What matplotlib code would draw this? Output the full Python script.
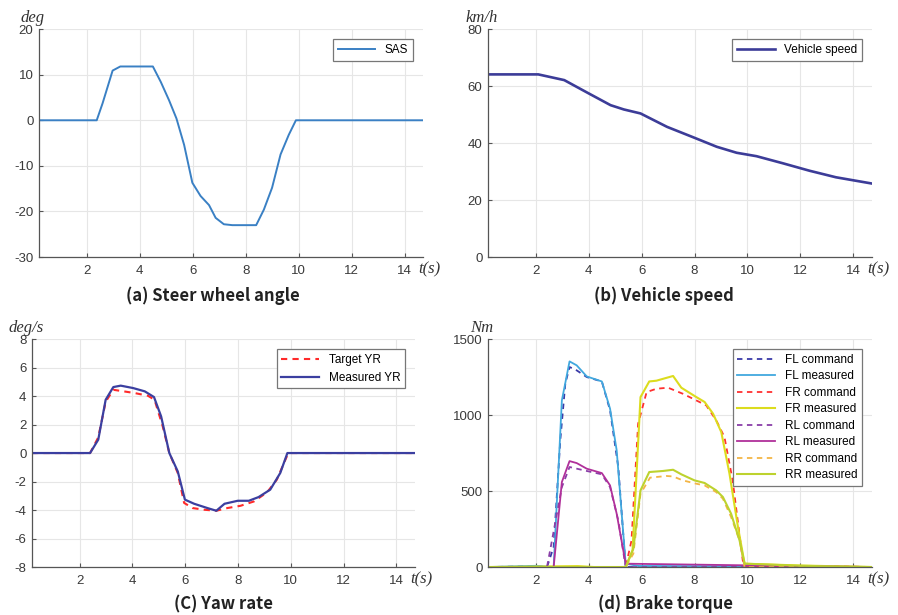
import numpy as np
import matplotlib
matplotlib.use("Agg")
import matplotlib.pyplot as plt

plt.rcParams["font.family"] = ["Liberation Sans", "DejaVu Sans"]
plt.rcParams["axes.unicode_minus"] = False

# (a) steer wheel angle
sas_t = [0.2, 2.38, 2.6, 2.98, 3.27, 4.5, 4.8, 5.11, 5.39, 5.68, 5.99, 6.3, 6.62,
         6.87, 7.18, 7.5, 8.4, 8.69, 9.0, 9.32, 9.63, 9.9, 14.7]
sas_deg = [0, 0, 3.7, 10.9, 11.8, 11.8, 8.4, 4.4, 0.4, -5.4, -13.7, -16.6, -18.6,
           -21.4, -22.8, -23.0, -23.0, -19.6, -14.8, -7.5, -3.2, 0, 0]

# (b) vehicle speed
spd_t = [0.2, 2.1, 3.08, 3.95, 4.83, 5.33, 5.96, 6.96, 7.96, 8.84, 9.59, 10.34,
         11.34, 12.34, 13.34, 14.7]
spd_kmh = [64.1, 64.1, 62.1, 57.7, 53.3, 51.8, 50.4, 45.7, 42.0, 38.7, 36.6, 35.4,
           32.9, 30.3, 28.0, 25.8]

# (c) yaw rate
yr_meas_t = [0.2, 2.4, 2.71, 2.99, 3.28, 3.56, 4.03, 4.47, 4.82, 5.09, 5.4, 5.72,
             5.99, 6.34, 6.84, 7.18, 7.49, 7.99, 8.41, 8.78, 9.22, 9.6, 9.87, 14.7]
yr_meas = [0, 0, 0.94, 3.74, 4.63, 4.73, 4.56, 4.33, 3.93, 2.57, 0, -1.29,
           -3.27, -3.56, -3.86, -4.05, -3.56, -3.35, -3.35, -3.09, -2.57, -1.4, 0, 0]
yr_tgt_t = [0.2, 2.4, 2.71, 2.99, 3.28, 4.09, 4.59, 4.84, 5.15, 5.4, 5.72, 5.96,
            6.28, 6.72, 7.18, 7.6, 8.1, 8.6, 9.1, 9.47, 9.85, 9.95, 14.7]
yr_tgt = [0, 0, 1.1, 3.6, 4.44, 4.21, 4.02, 3.74, 1.87, 0, -1.4, -3.5,
          -3.86, -3.98, -4.05, -3.86, -3.7, -3.4, -2.76, -1.87, -0.23, 0, 0]

# (d) brake torque
fl_cmd_t = [0.2, 2.0, 2.43, 2.68, 2.93, 3.12, 3.28, 3.55, 3.93, 4.5, 4.81, 5.12, 5.4, 8.0, 12.0, 14.7]
fl_cmd = [0, 5, 0, 132, 833, 1206, 1316, 1294, 1250, 1221, 1031, 658, 0, 0, 0, 0]
fl_meas_t = [0.2, 2.0, 2.68, 2.99, 3.28, 3.55, 3.93, 4.5, 4.81, 5.06, 5.4, 5.9, 9.9, 14.7]
fl_meas = [0, 8, 0, 1096, 1353, 1327, 1254, 1221, 1042, 768, 22, 7, 5, 0]
fr_cmd_t = [0.2, 5.4, 5.62, 5.87, 6.19, 6.56, 7.0, 7.56, 8.07, 8.44, 8.82, 9.13,
            9.44, 9.82, 9.94, 13.2, 14.7]
fr_cmd = [0, 0, 175, 943, 1151, 1173, 1180, 1140, 1096, 1064, 965, 855,
          570, 44, 0, 5, 0]
fr_meas_t = [0.2, 3.6, 4.2, 5.4, 5.66, 5.96, 6.29, 6.56, 7.19, 7.5, 8.07, 8.38,
             8.7, 9.01, 9.32, 9.64, 9.89, 12.0, 14.7]
fr_meas = [0, 6, 0, 0, 110, 1118, 1221, 1226, 1257, 1180, 1118, 1086,
           1009, 888, 614, 263, 22, 10, 0]
rl_cmd_t = [0.2, 2.43, 2.99, 3.28, 3.93, 4.5, 4.81, 5.12, 5.4, 14.7]
rl_cmd = [0, 0, 526, 658, 632, 610, 526, 307, 0, 0]
rl_meas_t = [0.2, 2.68, 2.99, 3.28, 3.55, 3.93, 4.5, 4.81, 5.06, 5.4, 14.7]
rl_meas = [0, 0, 559, 697, 684, 647, 618, 537, 351, 22, 0]
rr_cmd_t = [0.2, 5.4, 5.69, 5.96, 6.32, 6.94, 7.19, 7.56, 8.07, 8.38, 8.82, 9.07,
            9.38, 9.7, 9.89, 14.7]
rr_cmd = [0, 0, 88, 482, 588, 599, 596, 570, 548, 537, 493, 450,
          329, 175, 0, 0]
rr_meas_t = [0.2, 5.4, 5.69, 5.96, 6.29, 6.81, 7.19, 7.5, 8.0, 8.38, 8.82, 9.07,
             9.38, 9.7, 9.89, 12.0, 14.7]
rr_meas = [0, 0, 121, 504, 625, 632, 640, 610, 570, 553, 504, 461,
           351, 175, 22, 8, 0]

XTICKS = [2, 4, 6, 8, 10, 12, 14]
XLIM = (0.2, 14.7)
PX = 0.72  # one pixel in points at dpi 100


def style_axes(ax, ylim, yticks):
    ax.set_xlim(*XLIM)
    ax.set_ylim(*ylim)
    ax.set_xticks(XTICKS)
    ax.set_yticks(yticks)
    ax.grid(True, color="#e6e6e6", linewidth=0.8)
    ax.set_axisbelow(True)
    for side in ["top", "right"]:
        ax.spines[side].set_visible(False)
    for side in ["left", "bottom"]:
        ax.spines[side].set_color("#555555")
        ax.spines[side].set_linewidth(0.9)
    ax.tick_params(direction="in", length=3, width=0.8, color="#555555",
                   labelsize=9.5, labelcolor="#3a3a3a")
    ax.tick_params(axis="x", pad=6)
    ax.tick_params(axis="y", pad=4)


def unit_labels(ax, unit):
    serif = dict(fontsize=12, family="Liberation Serif", style="italic", color="#333333")
    ax.annotate(unit, xy=(0, 1), xycoords="axes fraction",
                xytext=(-6 * PX, 3 * PX), textcoords="offset points",
                ha="center", va="bottom", **serif)
    ax.annotate("t(s)", xy=(1, 0), xycoords="axes fraction",
                xytext=(-5 * PX, -12 * PX), textcoords="offset points",
                ha="left", va="center", **serif)


def add_legend(ax, **kw):
    leg = ax.legend(loc="upper right", fontsize=8.5, fancybox=False, framealpha=1,
                    edgecolor="#777777", handlelength=3.2, borderaxespad=0.85, **kw)
    leg.get_frame().set_linewidth(0.9)
    return leg


fig = plt.figure(figsize=(8.98, 6.15), dpi=100)
ax_a = fig.add_axes([0.0434, 0.582, 0.4277, 0.3707])
ax_b = fig.add_axes([0.5434, 0.582, 0.4276, 0.3707])
ax_c = fig.add_axes([0.0356, 0.078, 0.4265, 0.3707])
ax_d = fig.add_axes([0.5434, 0.078, 0.4276, 0.3707])

ax_a.plot(sas_t, sas_deg, color="#3a80c4", linewidth=1.4, label="SAS")
style_axes(ax_a, (-30, 20), [-30, -20, -10, 0, 10, 20])
unit_labels(ax_a, "deg")
add_legend(ax_a)

ax_b.plot(spd_t, spd_kmh, color="#3c3c98", linewidth=1.9, label="Vehicle speed")
style_axes(ax_b, (0, 80), [0, 20, 40, 60, 80])
unit_labels(ax_b, "km/h")
add_legend(ax_b)

ax_c.plot(yr_tgt_t, yr_tgt, color="#ff2a2a", linewidth=1.5, linestyle=(0, (3, 2.5)),
          label="Target YR")
ax_c.plot(yr_meas_t, yr_meas, color="#3b3fa0", linewidth=1.6, label="Measured YR")
style_axes(ax_c, (-8, 8), [-8, -6, -4, -2, 0, 2, 4, 6, 8])
unit_labels(ax_c, "deg/s")
add_legend(ax_c)

dash = (0, (3, 2.5))
ax_d.plot(fl_cmd_t, fl_cmd, color="#3a3aa8", linewidth=1.3, linestyle=dash, label="FL command")
ax_d.plot(fl_meas_t, fl_meas, color="#41a8de", linewidth=1.3, label="FL measured")
ax_d.plot(fr_cmd_t, fr_cmd, color="#ff3030", linewidth=1.3, linestyle=dash, label="FR command")
ax_d.plot(fr_meas_t, fr_meas, color="#dcdc1e", linewidth=1.5, label="FR measured")
ax_d.plot(rl_cmd_t, rl_cmd, color="#8a3fa8", linewidth=1.3, linestyle=dash, label="RL command")
ax_d.plot(rl_meas_t, rl_meas, color="#b0309a", linewidth=1.3, label="RL measured")
ax_d.plot(rr_cmd_t, rr_cmd, color="#f3b545", linewidth=1.3, linestyle=dash, label="RR command")
ax_d.plot(rr_meas_t, rr_meas, color="#bdd22e", linewidth=1.5, label="RR measured")
style_axes(ax_d, (0, 1500), [0, 500, 1000, 1500])
unit_labels(ax_d, "Nm")
add_legend(ax_d, labelspacing=0.38)

title_kw = dict(ha="center", va="center", fontsize=12, fontweight="bold",
                family=["Noto Sans CJK KR", "DejaVu Sans"], color="#222222")
fig.text(213 / 898, 1 - 296 / 615, "(a) Steer wheel angle", **title_kw)
fig.text(664 / 898, 1 - 296 / 615, "(b) Vehicle speed", **title_kw)
fig.text(223 / 898, 1 - 604 / 615, "(C) Yaw rate", **title_kw)
fig.text(666 / 898, 1 - 604 / 615, "(d) Brake torque", **title_kw)

fig.savefig("out.png", dpi=100)
